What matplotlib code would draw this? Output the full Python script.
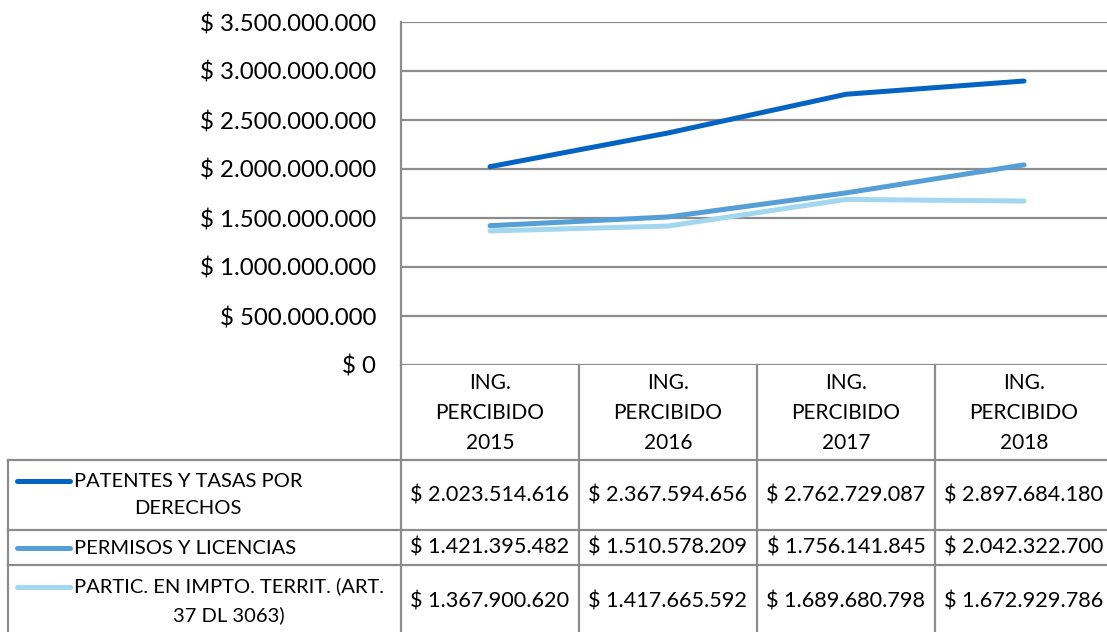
import matplotlib
matplotlib.use("Agg")
import matplotlib.pyplot as plt
from matplotlib.ticker import FuncFormatter

plt.rcParams['font.family'] = ['Lato', 'DejaVu Sans']

years = ["2015", "2016", "2017", "2018"]
categories = ["ING.\nPERCIBIDO\n" + y for y in years]
series_names = [
    "PATENTES Y TASAS POR\nDERECHOS",
    "PERMISOS Y LICENCIAS",
    "PARTIC. EN IMPTO. TERRIT. (ART.\n37 DL 3063)",
]
patentes = [2023514616, 2367594656, 2762729087, 2897684180]
permisos = [1421395482, 1510578209, 1756141845, 2042322700]
partic = [1367900620, 1417665592, 1689680798, 1672929786]
series = [patentes, permisos, partic]
colors = ["#0563C1", "#559FD6", "#A2D7EF"]
yticks = [0, 500000000, 1000000000, 1500000000, 2000000000, 2500000000, 3000000000, 3500000000]


def pesos(v, pos=None):
    return "$ " + f"{int(v):,}".replace(",", ".")


W, H = 1107, 632
fig = plt.figure(figsize=(W / 100, H / 100), dpi=100)

# plot area (pixel positions of the reference)
left, right, top, bottom = 401, 1113, 22, 365
ax = fig.add_axes([left / W, 1 - bottom / H, (right - left) / W, (bottom - top) / H])
x = list(range(len(years)))
for vals, c in zip(series, colors):
    ax.plot(x, vals, color=c, lw=3.6, solid_capstyle='round')
ax.set_xlim(-0.5, len(years) - 0.5)
ax.set_ylim(0, 3500000000)
ax.set_yticks(yticks)
ax.yaxis.set_major_formatter(FuncFormatter(pesos))
ax.set_xticks([])
ax.grid(axis='y', color='#8c8c8c', lw=1.6)
ax.tick_params(axis='y', length=0, pad=18, labelsize=17.3)
for s in ['top', 'right', 'bottom']:
    ax.spines[s].set_visible(False)
ax.spines['left'].set_color('#8c8c8c')
ax.spines['left'].set_linewidth(1.6)

# data table in pixel coordinates
tb = fig.add_axes([0, 0, 1, 1])
tb.set_xlim(0, W)
tb.set_ylim(H, 0)
tb.axis('off')
gc = '#8c8c8c'
col_edges = [401, 579, 757, 935, 1113]
row_edges = [460, 530, 565, 640]
for xe in col_edges[:-1]:
    tb.plot([xe, xe], [365, 640], color=gc, lw=1.6)
tb.plot([8, 8], [460, 640], color=gc, lw=1.6)
for ye in row_edges[:-1]:
    tb.plot([8, W], [ye, ye], color=gc, lw=1.6)

centers = [(col_edges[i] + col_edges[i + 1]) / 2 for i in range(len(years))]
for cx, cat in zip(centers, categories):
    tb.text(cx, 413, cat, ha='center', va='center', fontsize=15, linespacing=1.65)

row_mid = [495, 548, 601]
for r, (name, vals, c) in enumerate(zip(series_names, series, colors)):
    ym = row_mid[r]
    key_y = ym - 14 if "\n" in name else ym
    tb.plot([17, 70], [key_y, key_y], color=c, lw=3.6, solid_capstyle='round')
    tb.text(74, ym, name, ha='left', va='center', multialignment='center',
            fontsize=14.5, linespacing=1.75)
    for cx, v in zip(centers, vals):
        tb.text(cx, ym, pesos(v), ha='center', va='center', fontsize=15.6)

fig.savefig("out.png", dpi=100)
